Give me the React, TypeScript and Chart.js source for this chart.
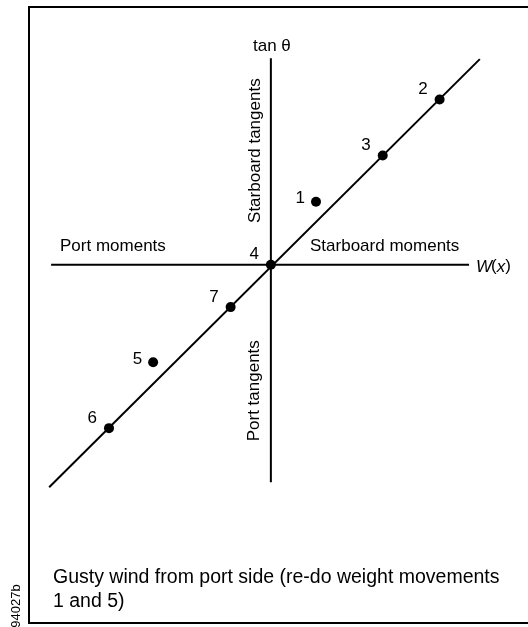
import React, { useEffect, useRef } from "react";
import Chart from "chart.js/auto";

// Weight-movement points (W(x), tan θ) in arbitrary units
const pointLabels = ["1", "2", "3", "4", "5", "6", "7"];
const pointX = [4.6, 17.2, 11.4, 0, -12.0, -16.5, -4.1];
const pointY = [6.4, 16.8, 11.1, 0, -9.9, -16.6, -4.3];
// label placement relative to its dot
const pointLabelPlace = ["left", "upLeft", "upLeft", "upLeft", "left", "upLeft", "upLeft"];

// Fitted straight line
const fitX = [-22.6, 21.3];
const fitY = [-22.6, 20.9];

// Axis extents
const hAxisX = [-22.4, 20.2];
const vAxisY = [-22.1, 21.0];

// Axis annotations
const noteTexts = ["Port moments", "Starboard moments", "Starboard tangents", "Port tangents"];
const noteX = [-16.1, 11.6, -1.6, -1.7];
const noteY = [1.9, 1.9, 11.6, -12.8];
const noteRotated = [false, false, true, true];

const yTitle = "tan θ";
const xTitle = ["W", "(", "x", ")"];
const captionLines = ["Gusty wind from port side (re-do weight movements", "1 and 5)"];
const figureId = "94027b";

const FONT = "'Liberation Sans', Arial, Helvetica, sans-serif";

export default function App() {
  const ref = useRef<HTMLCanvasElement>(null);

  useEffect(() => {
    const canvas = ref.current;
    if (!canvas) return;

    const textPlugin = {
      id: "textPlugin",
      beforeDraw(chart: any) {
        const ctx = chart.ctx;
        ctx.save();
        ctx.fillStyle = "#ffffff";
        ctx.fillRect(0, 0, chart.width, chart.height);
        ctx.strokeStyle = "#000";
        ctx.lineWidth = 2;
        ctx.strokeRect(29, 7, 540, 616);
        ctx.restore();
      },
      afterDatasetsDraw(chart: any) {
        const ctx = chart.ctx;
        const xs = chart.scales.x;
        const ys = chart.scales.y;
        ctx.save();
        ctx.fillStyle = "#000";
        ctx.textBaseline = "middle";

        // point labels
        ctx.font = `17px ${FONT}`;
        ctx.textAlign = "right";
        pointLabels.forEach((t, i) => {
          const px = xs.getPixelForValue(pointX[i]);
          const py = ys.getPixelForValue(pointY[i]);
          if (pointLabelPlace[i] === "left") ctx.fillText(t, px - 11, py - 3);
          else ctx.fillText(t, px - 12, py - 10);
        });

        // axis notes
        ctx.textAlign = "center";
        noteTexts.forEach((t, i) => {
          const px = xs.getPixelForValue(noteX[i]);
          const py = ys.getPixelForValue(noteY[i]);
          if (noteRotated[i]) {
            ctx.save();
            ctx.translate(px, py);
            ctx.rotate(-Math.PI / 2);
            ctx.fillText(t, 0, 0);
            ctx.restore();
          } else {
            ctx.fillText(t, px, py);
          }
        });

        // y title
        const topPx = ys.getPixelForValue(vAxisY[1]);
        const x0 = xs.getPixelForValue(0);
        ctx.fillText(yTitle, x0 + 1, topPx - 12);

        // x title: W(x) with italic letters
        const rightPx = xs.getPixelForValue(hAxisX[1]);
        const y0 = ys.getPixelForValue(0);
        let cx = rightPx + 7;
        ctx.textAlign = "left";
        xTitle.forEach((t) => {
          const italic = t !== "(" && t !== ")";
          ctx.font = `${italic ? "italic " : ""}17px ${FONT}`;
          ctx.fillText(t, cx, y0 + 2);
          cx += ctx.measureText(t).width + (t === "W" ? -1 : 0);
        });

        // caption
        ctx.font = `19.5px ${FONT}`;
        ctx.textBaseline = "alphabetic";
        ctx.fillText(captionLines[0], 53, 583);
        ctx.fillText(captionLines[1], 53, 607);

        // figure id rotated
        ctx.font = `13px ${FONT}`;
        ctx.textAlign = "center";
        ctx.textBaseline = "middle";
        ctx.save();
        ctx.translate(16, 606);
        ctx.rotate(-Math.PI / 2);
        ctx.fillText(figureId, 0, 0);
        ctx.restore();

        ctx.restore();
      },
    };

    const chart = new Chart(canvas, {
      type: "scatter",
      data: {
        datasets: [
          {
            label: "horizontal axis",
            data: hAxisX.map((x) => ({ x, y: 0 })),
            showLine: true,
            borderColor: "#000",
            borderWidth: 2,
            pointRadius: 0,
            clip: false,
          },
          {
            label: "vertical axis",
            data: vAxisY.map((y) => ({ x: 0, y })),
            showLine: true,
            borderColor: "#000",
            borderWidth: 2,
            pointRadius: 0,
            clip: false,
          },
          {
            label: "fit",
            data: fitX.map((x, i) => ({ x, y: fitY[i] })),
            showLine: true,
            borderColor: "#000",
            borderWidth: 2,
            pointRadius: 0,
            clip: false,
          },
          {
            label: "points",
            data: pointX.map((x, i) => ({ x, y: pointY[i] })),
            showLine: false,
            backgroundColor: "#000",
            borderColor: "#000",
            pointRadius: 5,
            borderWidth: 0,
            clip: false,
          },
        ],
      },
      options: {
        animation: false,
        responsive: false,
        devicePixelRatio: 1,
        layout: { padding: 0 },
        plugins: {
          legend: { display: false },
          tooltip: { enabled: false },
          title: { display: false },
        },
        scales: {
          x: { type: "linear", display: false, min: -27.1, max: 25.7 },
          y: { type: "linear", display: false, min: -36.3, max: 26.4 },
        },
      },
      plugins: [textPlugin],
    });

    return () => chart.destroy();
  }, []);

  return (
    <div style={{ position: "fixed", left: 0, top: 0, width: 528, height: 627, background: "#fff" }}>
      <canvas ref={ref} width={528} height={627} style={{ display: "block" }} />
    </div>
  );
}
